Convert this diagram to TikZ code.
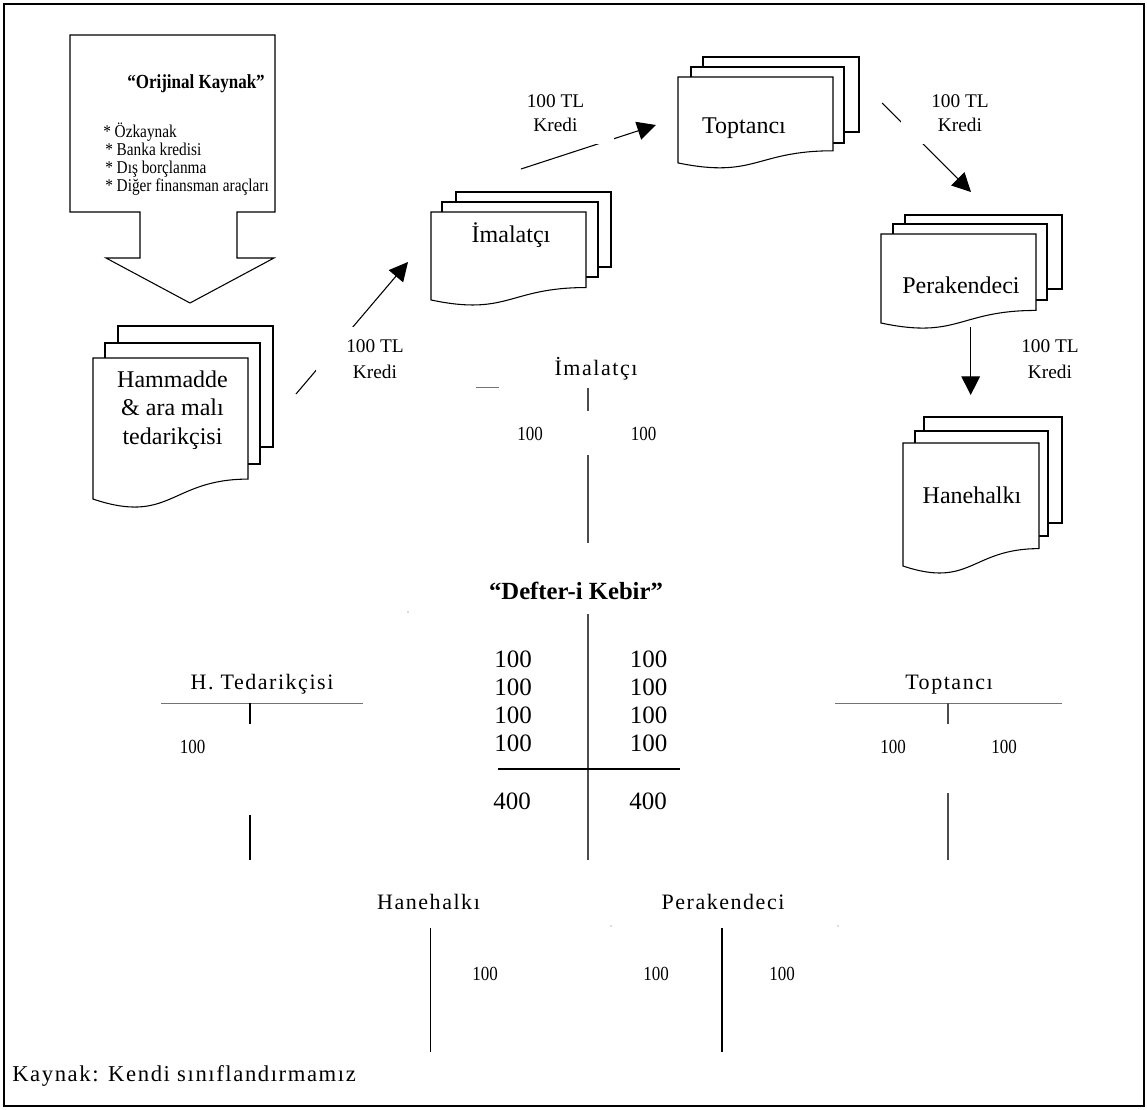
\documentclass[tikz,border=0pt]{standalone}
\usepackage{fontspec}
\setmainfont{Liberation Serif}
\newfontfamily\spaced[LetterSpace=7]{Liberation Serif}
\newfontfamily\cond[FakeStretch=0.85]{Liberation Serif}
\usetikzlibrary{arrows.meta}
\newcommand\fsz[2]{\fontsize{#1}{#2}\selectfont}
\newcommand\docfront[4]{%
  \draw[page] ({#1},{#3}) -- ({#2},{#3}) -- ({#2},{#3+0.802*#4})
    .. controls ({(#1+#2)/2},{#3+0.802*#4}) and ({(#1+#2)/2},{#3+1.107*#4}) .. ({#1},{#3+0.934*#4}) -- cycle;}
\begin{document}
\begin{tikzpicture}[x=0.75pt,y=-0.75pt,
  page/.style={draw=black, fill=white, line width=0.8pt},
  arr/.style={line width=0.8pt, -{Triangle[length=14pt,width=14pt]}},
  lab/.style={fill=white, align=center, inner xsep=22.5pt, inner ysep=9.75pt, font=\fsz{14.5pt}{#1}},
  doct/.style={font=\fsz{18pt}{21pt}, anchor=base, inner sep=0pt},
  item/.style={font=\cond\fsz{13.5pt}{16pt}, anchor=base west, inner sep=0pt},
  tlab/.style={font=\spaced\fsz{16.5pt}{19pt}, anchor=base, inner sep=0pt},
  tnum/.style={font=\cond\fsz{15pt}{17pt}, anchor=base, inner sep=0pt},
  bnum/.style={font=\fsz{18.75pt}{21pt}, anchor=base, inner sep=0pt},
  tline/.style={draw=black!70, line width=0.8pt},
  hline/.style={draw=black!55, line width=0.5pt}
]
\useasboundingbox (0,0) rectangle (1147,1110);
\draw[line width=1.5pt] (4,4) rectangle (1144,1106);
\draw[line width=2.2pt] (4,4) -- (1144,4);

% Orijinal Kaynak callout
\draw[line width=0.8pt, fill=white] (70,35) -- (275,35) -- (275,212) -- (237,212) -- (237,258)
  -- (274,258) -- (190,303) -- (106,258) -- (140,258) -- (140,212) -- (70,212) -- cycle;
\node[font=\cond\bfseries\fsz{15pt}{18pt}, anchor=base, inner sep=0pt] (okt) at (196,88) {“Orijinal Kaynak”};
\node[item] (ok1) at (103,137) {* Özkaynak};
\node[item] (ok2) at (105,155) {* Banka kredisi};
\node[item] (ok3) at (105,173) {* Dış borçlanma};
\node[item] (ok4) at (105,191) {* Diğer finansman araçları};

% Hammadde stack
\draw[page] (118,326) rectangle (273,447);
\draw[page] (105,343) rectangle (260,464);
\docfront{93}{248}{358}{151}
\node[doct] (ham1) at (172.5,387) {Hammadde};
\node[doct] (ham2) at (172.5,415.5) {\& ara malı};
\node[doct] (ham3) at (172.5,444) {tedarikçisi};

% Imalatci stack
\draw[page] (456,192) rectangle (611,267);
\draw[page] (442,202) rectangle (598,277);
\docfront{431}{586}{212}{94.2}
\node[doct] (ima) at (511,242) {İmalatçı};

% Toptanci stack
\draw[page] (703,57) rectangle (859,132);
\draw[page] (691,67) rectangle (844,143);
\docfront{678}{833}{77}{92}
\node[doct] (top) at (744,133) {Toptancı};

% Perakendeci stack
\draw[page] (905,215) rectangle (1062,289);
\draw[page] (893,224) rectangle (1047,300);
\docfront{881}{1036}{234}{95.3}
\node[doct] (per) at (961,293) {Perakendeci};

% Hanehalki stack
\draw[page] (924,417) rectangle (1062,523);
\draw[page] (915,431) rectangle (1048,536);
\docfront{903}{1039}{443}{131.7}
\node[doct] (han) at (972,503) {Hanehalkı};

% arrows
\coordinate (a1s) at (296,394); \coordinate (a1e) at (408,262);
\coordinate (a2s) at (521,169); \coordinate (a2e) at (656,125);
\coordinate (a3s) at (882,103); \coordinate (a3e) at (971,192);
\coordinate (a4s) at (970.7,327); \coordinate (a4e) at (970.7,395);
\draw[arr] (a1s) -- (a1e);
\draw[arr] (a2s) -- (a2e);
\draw[arr] (a3s) -- (a3e);
\draw[arr] (a4s) -- (a4e);
\node[lab=19.5pt] (l1) at (375,359.3) {100 TL\\Kredi};
\node[lab=17.5pt] (l2) at (555.5,113.3) {100 TL\\Kredi};
\node[lab=17.5pt] (l3) at (960,113.3) {100 TL\\Kredi};
\node[lab=19.5pt] (l4) at (1050,359.3) {100 TL\\Kredi};

% Imalatci T-account
\node[tlab] (timal) at (596,375) {İmalatçı};
\draw[hline] (476,387) -- (499,387);
\draw[tline] (588,388) -- (588,411);
\draw[tline] (588,455) -- (588,543);
\node[tnum] (ti1) at (530,440) {100};
\node[tnum] (ti2) at (643.7,440) {100};

% Defter-i Kebir
\node[font=\bfseries\fsz{18.5pt}{21pt}, anchor=base, inner sep=0pt] (dk) at (576,599) {“Defter-i Kebir”};
\fill[black!60] (408,612) circle (0.7);
\draw[tline] (588,614) -- (588,860);
\draw[line width=0.8pt] (498,769) -- (680,769);
\foreach \yy/\nm in {667/1,695/2,723/3,751.5/4}{
  \node[bnum] (dl\nm) at (513,\yy) {100};
  \node[bnum] (dr\nm) at (648.6,\yy) {100};
}
\node[bnum] (dlt) at (512,809) {400};
\node[bnum] (drt) at (648,809) {400};

% H. Tedarikcisi T-account
\node[tlab] (tht) at (262,689.3) {H. Tedarikçisi};
\draw[hline] (161,703) -- (363,703);
\draw[line width=0.8pt] (250,703) -- (250,724);
\draw[line width=0.8pt] (250,815) -- (250,860);
\node[tnum] (th1) at (192.5,753.3) {100};

% Toptanci T-account
\node[tlab] (ttop) at (949,689.3) {Toptancı};
\draw[hline] (835,703) -- (1062,703);
\draw[tline] (948,703) -- (948,724);
\draw[tline] (948,793) -- (948,860);
\node[tnum] (tt1) at (893,753.3) {100};
\node[tnum] (tt2) at (1004,753.3) {100};

% Hanehalki T-account
\node[tlab] (thh) at (428.5,909.3) {Hanehalkı};
\draw[line width=0.8pt] (430.5,928) -- (430.5,1052);
\node[tnum] (th2) at (485,980) {100};

% Perakendeci T-account
\node[tlab] (tpk) at (723,909.3) {Perakendeci};
\fill[black!60] (611,926) circle (0.7);
\fill[black!60] (838,926) circle (0.7);
\draw[line width=0.8pt] (722,928) -- (722,1052);
\node[tnum] (tp1) at (656,980) {100};
\node[tnum] (tp2) at (782,980) {100};

% source
\node[font=\spaced\fsz{17pt}{19pt}, anchor=base west, inner sep=0pt] (src) at (12,1081.7) {Kaynak: Kendi sınıflandırmamız};
\end{tikzpicture}
\end{document}
